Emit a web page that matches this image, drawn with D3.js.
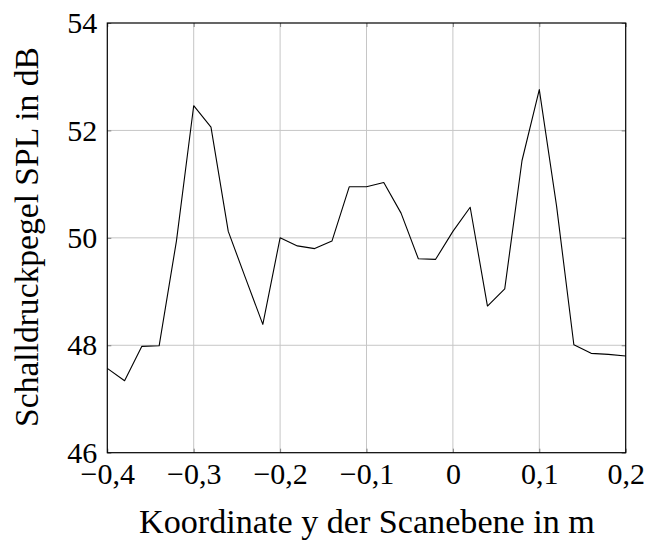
<!DOCTYPE html>
<html><head><meta charset="utf-8">
<script src="https://cdn.jsdelivr.net/npm/d3@7"></script>
<style>body{margin:0;background:#fff}svg{display:block}</style>
</head><body><svg id="c" width="647" height="541"></svg>
<script>
const xValues = [-0.40,-0.38,-0.36,-0.34,-0.32,-0.30,-0.28,-0.26,-0.24,-0.22,-0.20,-0.18,-0.16,-0.14,-0.12,-0.10,-0.08,-0.06,-0.04,-0.02,0.00,0.02,0.04,0.06,0.08,0.10,0.12,0.14,0.16,0.18,0.20];
const splValues = [47.57,47.34,47.98,47.99,49.94,52.46,52.06,50.12,49.25,48.39,50.00,49.85,49.80,49.94,50.95,50.95,51.03,50.46,49.61,49.60,50.12,50.57,48.73,49.05,51.44,52.76,50.59,48.01,47.85,47.83,47.80];
const xTicks = [-0.4,-0.3,-0.2,-0.1,0,0.1,0.2];
const yTicks = [46,48,50,52,54];
const xLabel = "Koordinate y der Scanebene in m";
const yLabel = "Schalldruckpegel SPL in dB";

const FONT = "'Liberation Serif'";
const FS = 30;
const svg = d3.select("#c");
const L=107.3, R=625.7, T=23, B=452.7;
const x = d3.scaleLinear().domain([-0.4,0.2]).range([L,R]);
const y = d3.scaleLinear().domain([46,54]).range([B,T]);
const fmt = d => d===0 ? "0" : (d<0?"\u2212":"") + Math.abs(d).toFixed(1).replace(".",",");

// grid
svg.append("g").selectAll("line").data(xTicks.slice(1,-1)).join("line")
  .attr("x1",d=>x(d)).attr("x2",d=>x(d)).attr("y1",T).attr("y2",B)
  .attr("stroke","#c6c6c6").attr("stroke-width",1);
svg.append("g").selectAll("line").data(yTicks.slice(1,-1)).join("line")
  .attr("y1",d=>y(d)).attr("y2",d=>y(d)).attr("x1",L).attr("x2",R)
  .attr("stroke","#c6c6c6").attr("stroke-width",1);

const ax = (axis, tr) => svg.append("g").attr("transform",tr).call(axis)
  .call(g=>g.select(".domain").remove())
  .call(g=>g.selectAll(".tick line").attr("stroke","#666").attr("stroke-width",0.8))
  .call(g=>g.selectAll("text").attr("font-family",FONT).attr("font-size",FS).attr("fill","#000"));
ax(d3.axisBottom(x).tickValues(xTicks).tickSize(-4).tickPadding(10).tickFormat(fmt), `translate(0,${B})`);
ax(d3.axisTop(x).tickValues(xTicks).tickSize(-4).tickFormat(""), `translate(0,${T})`);
ax(d3.axisLeft(y).tickValues(yTicks).tickSize(-4).tickPadding(10).tickFormat(d=>d), `translate(${L},0)`);
ax(d3.axisRight(y).tickValues(yTicks).tickSize(-4).tickFormat(""), `translate(${R},0)`);

svg.append("rect").attr("x",L).attr("y",T).attr("width",R-L).attr("height",B-T)
  .attr("fill","none").attr("stroke","#000").attr("stroke-width",1.2);

svg.append("path").datum(d3.zip(xValues,splValues))
  .attr("d", d3.line().x(d=>x(d[0])).y(d=>y(d[1])))
  .attr("fill","none").attr("stroke","#000").attr("stroke-width",1.1).attr("stroke-linejoin","round");

function fitText(t, target){
  const w = t.node().getComputedTextLength();
  t.attr("font-size", FS*target/w);
}
const xl = svg.append("text").attr("x",367).attr("y",533).attr("text-anchor","middle")
  .attr("font-family",FONT).attr("font-size",FS).text(xLabel);
fitText(xl, 456);
const yl = svg.append("text").attr("transform",`translate(38,237) rotate(-90)`).attr("text-anchor","middle")
  .attr("font-family",FONT).attr("font-size",FS).text(yLabel);
fitText(yl, 380);
</script></body></html>
